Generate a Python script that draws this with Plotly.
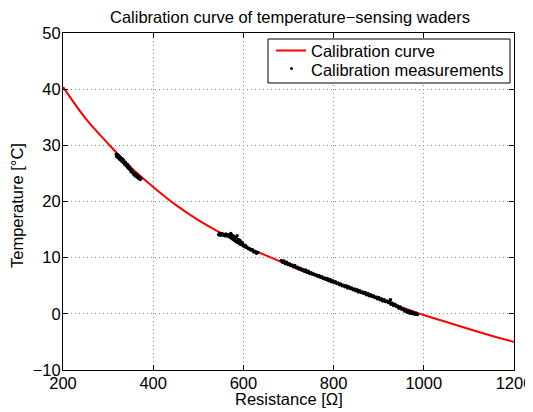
import plotly.graph_objects as go

# Calibration curve (resistance in Ohm, temperature in deg C)
curve_r = [200, 250, 300, 350, 400, 450, 500, 550, 600, 650, 700, 750, 800,
           850, 900, 950, 1000, 1050, 1100, 1150, 1200]
curve_t = [40.4, 34.8, 30.3, 26.1, 22.6, 19.4, 16.7, 14.4, 12.2, 10.4, 8.7, 7.1, 5.6,
           4.1, 2.65, 1.2, -0.2, -1.45, -2.7, -3.9, -5.0]

# Calibration measurements, cluster 1
meas1_r = [318, 319, 321, 322, 323, 325, 326, 327, 329, 330, 331, 333, 334, 336, 337, 338,
           340, 341, 343, 344, 345, 347, 348, 350, 351, 352, 354, 356, 357, 359, 360, 362,
           363, 365, 366, 368, 370, 371, 373]
meas1_t = [28.4, 28.0, 28.3, 27.8, 28.2, 27.7, 27.5, 27.9, 27.4, 27.2, 27.6, 27.0, 27.4, 26.8,
           26.6, 27.0, 26.5, 26.3, 26.6, 26.1, 25.9, 26.2, 25.7, 25.8, 25.3, 25.6, 25.2, 25.1,
           24.8, 25.0, 24.6, 24.5, 24.8, 24.3, 24.5, 24.1, 24.3, 23.9, 24.1]

# cluster 2
meas2_r = [545, 547, 549, 551, 553, 555, 557, 559, 561, 563, 565, 567, 569, 571, 572, 574,
           575, 577, 578, 580, 581, 583, 584, 586, 587, 589, 590, 592, 593, 595, 596, 598,
           600, 602, 604, 606, 608, 611, 614, 617, 620, 623, 626, 629, 632]
meas2_t = [14.1, 14.3, 14.0, 14.2, 14.3, 14.0, 14.1, 13.9, 14.2, 13.9, 14.1, 13.8, 14.0, 13.7,
           14.3, 13.5, 14.0, 13.3, 13.8, 13.1, 13.6, 12.9, 13.5, 13.9, 12.7, 13.2, 12.6, 13.1,
           12.4, 12.8, 12.3, 12.6, 12.1, 12.0, 12.2, 11.8, 11.9, 11.6, 11.6, 11.3, 11.4, 11.0,
           11.1, 10.8, 10.9]

# cluster 3
meas3_r = [684, 687, 690, 693, 696, 699, 702, 705, 708, 711, 714, 717, 720, 723, 726, 729,
           732, 735, 738, 741, 744, 747, 750, 753, 756, 759, 762, 765, 768, 771, 774, 777,
           780, 783, 786, 789, 792, 795, 798, 801, 804, 807, 810, 813, 816, 819, 822, 825,
           828, 831, 834, 837, 840, 843, 846, 849, 852, 855, 858, 861, 864, 867, 870, 873,
           876, 879, 882, 885, 888, 891, 894, 897, 900, 903, 906, 909, 912, 915, 918, 921,
           924, 926, 927, 930, 933, 936, 939, 942, 945, 948, 951, 954, 957, 960, 963, 966,
           969, 972, 975, 978, 981, 984, 986]
meas3_t = [9.5, 9.2, 9.4, 8.9, 9.2, 8.8, 8.9, 8.6, 8.7, 8.4, 8.6, 8.2, 8.3, 8.0, 8.1, 7.8,
           7.9, 7.6, 7.8, 7.4, 7.6, 7.2, 7.3, 7.1, 7.1, 6.9, 6.9, 6.7, 6.8, 6.5, 6.6, 6.3,
           6.4, 6.1, 6.3, 5.9, 6.1, 5.7, 5.9, 5.6, 5.7, 5.4, 5.5, 5.2, 5.3, 5.0, 5.1, 4.8,
           5.0, 4.6, 4.8, 4.5, 4.6, 4.3, 4.4, 4.1, 4.3, 3.9, 4.1, 3.8, 3.9, 3.6, 3.8, 3.4,
           3.6, 3.2, 3.4, 3.1, 3.2, 2.9, 3.0, 2.7, 2.9, 2.5, 2.7, 2.3, 2.5, 2.2, 2.3, 2.0,
           2.2, 2.5, 1.7, 1.9, 1.5, 1.7, 1.3, 1.4, 1.0, 1.2, 0.8, 0.9, 0.5, 0.7, 0.3, 0.5,
           0.1, 0.4, 0.0, 0.2, -0.1, 0.1, -0.1]

x_ticks = [200, 400, 600, 800, 1000, 1200]
y_ticks = [-10, 0, 10, 20, 30, 40, 50]

legend_names = ["Calibration curve", "Calibration measurements"]

meas_r = meas1_r + meas2_r + meas3_r
meas_t = meas1_t + meas2_t + meas3_t

FONT = "Liberation Sans, Arial, Helvetica, sans-serif"
FS = 16.5

# figure sits 8 px in from the page corner (default body margin)
W, H = 525, 404
ML, MR, MT, MB = 55, 19, 25, 42
PW, PH = W - ML - MR, H - MT - MB


def px(xa):  # absolute page x -> paper x
    return (xa - 8 - ML) / PW


def py(ya):  # absolute page y -> paper y
    return (H - MB - (ya - 8)) / PH


fig = go.Figure()
fig.add_trace(go.Scatter(
    x=curve_r, y=curve_t, mode="lines", name=legend_names[0],
    line=dict(color="#ff0000", width=2, shape="spline"), showlegend=False,
))
fig.add_trace(go.Scatter(
    x=meas_r, y=meas_t, mode="markers", name=legend_names[1],
    marker=dict(color="black", size=3.5), showlegend=False,
))

axis_common = dict(
    showline=True, linecolor="black", linewidth=1, mirror="allticks",
    ticks="inside", ticklen=5, tickcolor="black",
    showgrid=True, gridcolor="#8a8a8a", gridwidth=1, griddash="1px,3px",
    zeroline=False, automargin=False, ticklabelstandoff=-2,
    tickfont=dict(size=FS, color="black", family=FONT),
)
fig.update_xaxes(range=[200, 1200], tickvals=x_ticks, **axis_common)
fig.update_yaxes(range=[-10, 50], tickvals=y_ticks, **axis_common)

tfont = dict(size=FS, color="black", family=FONT)
annotations = [
    dict(text="Resistance [Ω]", x=0.5, y=py(399), xref="paper", yref="paper",
         xanchor="center", yanchor="middle", showarrow=False, font=tfont),
    dict(text="Temperature [°C]", x=px(17), y=py(206), xref="paper", yref="paper",
         xanchor="center", yanchor="middle", textangle=-90, showarrow=False, font=tfont),
    dict(text=legend_names[0], x=px(309), y=py(51), xref="paper", yref="paper",
         xanchor="left", yanchor="middle", showarrow=False, font=tfont),
    dict(text=legend_names[1], x=px(309), y=py(69.5), xref="paper", yref="paper",
         xanchor="left", yanchor="middle", showarrow=False, font=tfont),
]

shapes = [
    dict(type="rect", xref="paper", yref="paper", x0=px(268), x1=px(510), y0=py(39), y1=py(83),
         line=dict(color="black", width=1), fillcolor="white", layer="above"),
    dict(type="line", xref="paper", yref="paper", x0=px(276), x1=px(306), y0=py(50.5), y1=py(50.5),
         line=dict(color="#ff0000", width=2), layer="above"),
    dict(type="circle", xref="paper", yref="paper", x0=px(290), x1=px(293), y0=py(67), y1=py(70),
         line=dict(color="black", width=0), fillcolor="black", layer="above"),
]

fig.update_layout(
    width=W, height=H,
    margin=dict(l=ML, r=MR, t=MT, b=MB, autoexpand=False),
    paper_bgcolor="white", plot_bgcolor="white",
    font=dict(family=FONT, size=FS, color="black"),
    title=dict(text="Calibration curve of temperature−sensing waders",
               x=(290 - 8) / W, xanchor="center", y=1 - (17 - 8) / H, yanchor="middle",
               font=tfont),
    annotations=annotations,
    shapes=shapes,
    showlegend=False,
)

fig.write_html("out.html")
